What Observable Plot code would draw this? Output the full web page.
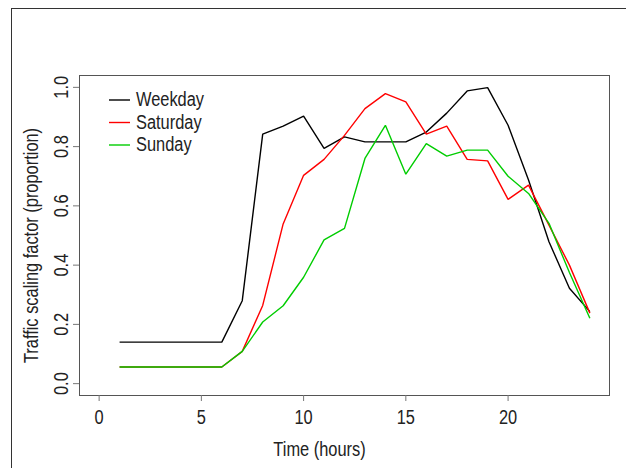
<!DOCTYPE html>
<html>
<head>
<meta charset="utf-8">
<script src="https://cdn.jsdelivr.net/npm/d3@7"></script>
<script src="https://cdn.jsdelivr.net/npm/@observablehq/plot@0.6"></script>
<style>
  html, body { margin: 0; padding: 0; background: #fff; }
  #wrap { position: relative; width: 626px; height: 468px; overflow: hidden; }
  #border { position: absolute; left: 11px; top: 8px; right: -2px; bottom: -2px; border-top: 1px solid #333; border-left: 1px solid #333; }
  #chart { position: absolute; left: 0; top: 0; }
  #legend { position: absolute; left: 0; top: 0; }
</style>
</head>
<body>
<div id="wrap">
  <div id="border"></div>
  <div id="chart"></div>
  <svg id="legend" width="626" height="468"></svg>
</div>
<script>
const hours = [1,2,3,4,5,6,7,8,9,10,11,12,13,14,15,16,17,18,19,20,21,22,23,24];
const weekday  = [0.14,0.14,0.14,0.14,0.14,0.14,0.28,0.842,0.869,0.903,0.794,0.833,0.816,0.816,0.816,0.849,0.913,0.988,0.999,0.872,0.687,0.479,0.322,0.243];
const saturday = [0.056,0.056,0.056,0.056,0.056,0.056,0.109,0.264,0.539,0.703,0.757,0.838,0.928,0.979,0.951,0.842,0.869,0.757,0.752,0.622,0.670,0.535,0.400,0.238];
const sunday   = [0.056,0.056,0.056,0.056,0.056,0.056,0.109,0.208,0.263,0.359,0.485,0.524,0.760,0.872,0.707,0.810,0.768,0.788,0.788,0.700,0.642,0.541,0.375,0.221];
const seriesNames = ["Weekday", "Saturday", "Sunday"];
const seriesColors = ["#000000", "#ff0000", "#00cd00"];
const xTicks = [0, 5, 10, 15, 20];
const yTicks = [0.0, 0.2, 0.4, 0.6, 0.8, 1.0];
const xTitle = "Time (hours)";
const yTitle = "Traffic scaling factor (proportion)";

const seriesValues = [weekday, saturday, sunday];
const rows = seriesNames.flatMap((name, i) =>
  hours.map((h, j) => ({series: name, hour: h, value: seriesValues[i][j]})));

const FONT = '"Liberation Sans", Arial, Helvetica, sans-serif';
const NARROW = 0.82; // emulate Helvetica/Arial Narrow

const chart = Plot.plot({
  width: 626,
  height: 468,
  marginLeft: 79,
  marginRight: 17,
  marginTop: 75,
  marginBottom: 73,
  style: {fontFamily: FONT, fontSize: "20px", color: "#222", background: "transparent", overflow: "visible"},
  x: {domain: [-0.96, 24.96]},
  y: {domain: [-0.04, 1.04]},
  color: {domain: seriesNames, range: seriesColors},
  marks: [
    Plot.frame({stroke: "#555", strokeWidth: 1}),
    Plot.axisX({ticks: xTicks, tickSize: 6, tickPadding: 8, stroke: "#777", fill: "#222", fontSize: 20, label: null, tickFormat: d => String(d)}),
    Plot.axisY({ticks: yTicks, tickSize: 6, stroke: "#777", fill: "none", label: null}),
    Plot.text(yTicks, {y: d => d, text: d => d.toFixed(1), frameAnchor: "left", dx: -18, rotate: -90, textAnchor: "middle", lineAnchor: "middle", fontSize: 20, fill: "#222"}),
    Plot.text([xTitle], {text: d => d, frameAnchor: "bottom", dx: -25, dy: 54, textAnchor: "middle", lineAnchor: "middle", fontSize: 20, fill: "#222"}),
    Plot.text([yTitle], {text: d => d, frameAnchor: "left", dx: -48, dy: 10, rotate: -90, textAnchor: "middle", lineAnchor: "middle", fontSize: 20, fill: "#222"}),
    Plot.line(rows, {x: "hour", y: "value", z: "series", stroke: "series", strokeWidth: 1.4, strokeLinejoin: "miter", strokeLinecap: "butt"})
  ]
});
document.getElementById("chart").appendChild(chart);

// legend (inside plot box, top-left)
const leg = d3.select("#legend");
const lg = leg.selectAll("g").data(seriesNames).join("g")
  .attr("transform", (d, i) => `translate(109, ${100 + i * 22.5})`);
lg.append("line").attr("x1", 0).attr("x2", 21).attr("y1", 0).attr("y2", 0)
  .attr("stroke", (d, i) => seriesColors[i]).attr("stroke-width", 1.4);
lg.append("text").attr("x", 27).attr("y", 0).attr("dy", "0.32em")
  .attr("font-family", FONT).attr("font-size", 20).attr("fill", "#222")
  .text(d => d);

// condense all text along its writing direction (Helvetica Narrow look)
document.querySelectorAll("#wrap svg text").forEach(t => {
  const len = t.getComputedTextLength();
  if (len > 0) {
    t.setAttribute("textLength", (len * NARROW).toFixed(2));
    t.setAttribute("lengthAdjust", "spacingAndGlyphs");
  }
});
</script>
</body>
</html>
